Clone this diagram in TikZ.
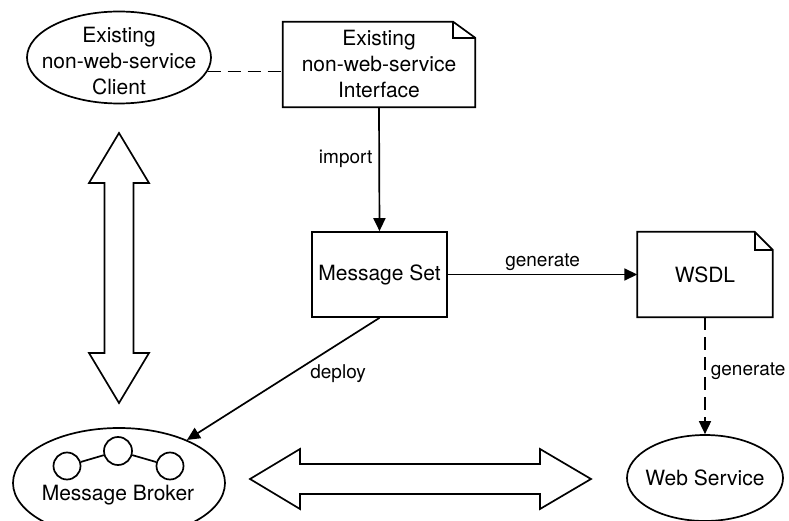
\documentclass[tikz,border=0pt]{standalone}
\usepackage{fontspec}
\setmainfont{TeX Gyre Heros}
\usetikzlibrary{shapes.geometric,arrows.meta,calc}
\begin{document}
\begin{tikzpicture}[x=1pt,y=-1pt,
  every node/.style={font=\fontsize{21}{26}\selectfont, inner sep=0pt},
  lw/.style={line width=1.7pt},
  ell/.style={draw, lw, ellipse},
  box/.style={draw, lw, rectangle, minimum width=135pt, minimum height=85pt, align=center},
  docbox/.style={rectangle, align=center},
  lab/.style={font=\fontsize{19}{23}\selectfont, inner sep=2pt},
  arr/.style={lw, -{Triangle[length=13pt,width=12pt]}},
  dsh/.style={dash pattern=on 13pt off 7pt},
  dot/.style={draw, lw, circle},
]
\useasboundingbox (0,0) rectangle (789,521);

% nodes
\node[ell, minimum width=184pt, minimum height=92pt,
      label={[align=center, yshift=-4pt]center:{Existing\\non-web-service\\Client}}] (client) at (119,57.5) {};
\node[docbox, minimum width=192pt, minimum height=85pt] (iface) at (379,64.5) {Existing\\non-web-service\\Interface};
\node[box] (msgset) at (379.5,274.5) {Message Set};
\node[docbox, minimum width=135pt, minimum height=85pt] (wsdl) at (705,274.5) {WSDL};
\node[ell, minimum width=156pt, minimum height=86pt,
      label={center:Web Service}] (ws) at (705,478) {};
\node[ell, minimum width=212pt, minimum height=110pt] (broker) at (119,483) {};
\node (brokertext) at (118,495) {Message Broker};
\node[dot, minimum size=27pt] (c1) at (67,466) {};
\node[dot, minimum size=28pt] (c2) at (118,451) {};
\node[dot, minimum size=27pt] (c3) at (170,466) {};
\draw[lw] (c1) -- (c2) -- (c3);

% document outlines with folded corner
\foreach \n/\fx/\fy in {iface/22/16, wsdl/18/18} {
  \draw[lw] (\n.south west) -- (\n.north west) -- ([xshift=-\fx pt]\n.north east)
            -- ([yshift=-\fy pt]\n.north east) -- (\n.south east) -- cycle;
  \draw[lw] ([xshift=-\fx pt]\n.north east) |- ([yshift=-\fy pt]\n.north east);
}

% connectors
\draw[lw, dsh] (client.-9) -- (client.-9 -| iface.west);
\draw[arr] (iface.south) -- node[lab, pos=0.42, left=4pt] {import} (msgset.north);
\draw[arr] (msgset.east) -- node[lab, above=1pt] {generate} (wsdl.west);
\draw[arr, dsh] (wsdl.south) -- node[lab, pos=0.46, right=3pt] {generate} (ws.north);
\draw[arr] (msgset.south) -- node[lab, pos=0.4, anchor=west, xshift=5pt, yshift=-7pt] {deploy} (broker);

% block double arrows
\draw[lw, line join=miter] (119,133) -- (149,183) -- (133.5,183) -- (133.5,353) -- (149,353)
  -- (119,403) -- (89,353) -- (104.5,353) -- (104.5,183) -- (89,183) -- cycle;
\draw[lw, line join=miter] (250,479) -- (300,449) -- (300,464) -- (540,464) -- (540,449)
  -- (591,479) -- (540,509) -- (540,494) -- (300,494) -- (300,509) -- cycle;
\end{tikzpicture}
\end{document}
